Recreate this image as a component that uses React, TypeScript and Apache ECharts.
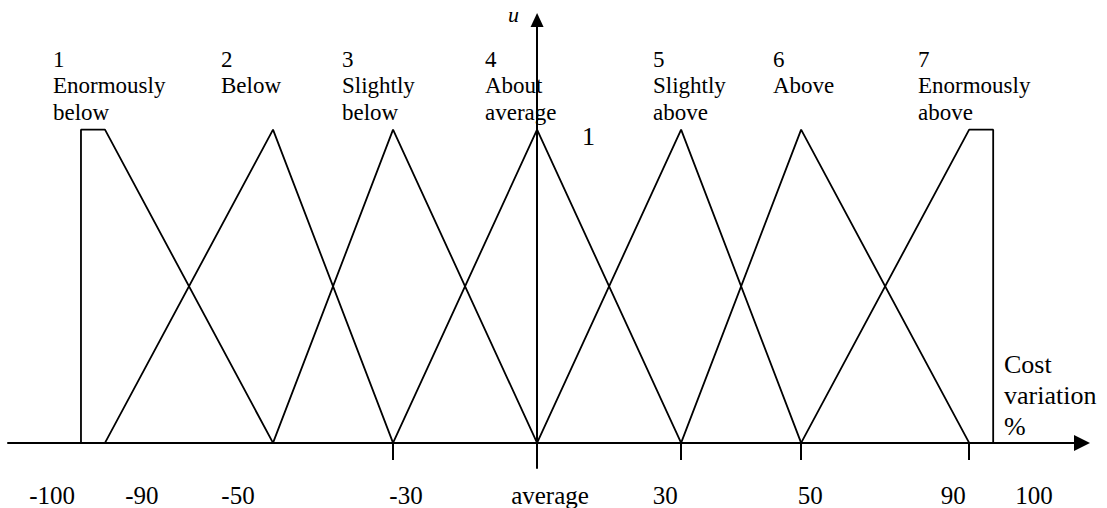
import { useEffect, useRef } from "react";
import * as echarts from "echarts";

// Horizontal layout units of the universe of discourse (average = 0).
// Membership functions of the seven linguistic terms: [position, u]
const set1 = [[-95, 0], [-95, 1], [-90, 1], [-55, 0]];
const set2 = [[-90, 0], [-55, 1], [-30, 0]];
const set3 = [[-55, 0], [-30, 1], [0, 0]];
const set4 = [[-30, 0], [0, 1], [30, 0]];
const set5 = [[0, 0], [30, 1], [55, 0]];
const set6 = [[30, 0], [55, 1], [90, 0]];
const set7 = [[55, 0], [90, 1], [95, 1], [95, 0]];
const sets = [set1, set2, set3, set4, set5, set6, set7];

const setLabels = [
  "1\nEnormously\nbelow",
  "2\nBelow",
  "3\nSlightly\nbelow",
  "4\nAbout\naverage",
  "5\nSlightly\nabove",
  "6\nAbove",
  "7\nEnormously\nabove",
];

// Axis annotations
const tickMarks = [-30, 30, 55, 90];
const tickLabels = ["-100", "-90", "-50", "-30", "average", "30", "50", "90", "100"];
const tickLabelPos = [-101, -82.3, -62.3, -27.3, 2.7, 26.7, 56.9, 86.7, 103.5];

const FONT = '"Liberation Serif", "Times New Roman", serif';
const setLabelLeft = [53, 221, 342, 485, 653, 773, 918];

export default function App() {
  const ref = useRef<HTMLDivElement>(null);

  useEffect(() => {
    if (!ref.current) return;
    const chart = echarts.init(ref.current, undefined, { renderer: "svg" });

    const labelFor = (v: number) => {
      const i = tickLabelPos.findIndex((p) => Math.abs(p - v) < 1e-6);
      return i >= 0 ? tickLabels[i] : "";
    };

    chart.setOption({
      animation: false,
      backgroundColor: "#ffffff",
      grid: {
        left: 8,
        right: 25,
        top: 20,
        bottom: 40,
        containLabel: false,
        outerBoundsMode: "none",
      },
      xAxis: {
        type: "value",
        min: -110.2,
        max: 113.5,
        splitLine: { show: false },
        axisLine: {
          show: true,
          onZero: true,
          symbol: ["none", "triangle"],
          symbolSize: [16, 16],
          lineStyle: { color: "#000", width: 2 },
        },
        axisTick: {
          show: true,
          length: 17,
          customValues: tickMarks,
          lineStyle: { color: "#000", width: 2 },
        },
        axisLabel: {
          show: true,
          customValues: tickLabelPos,
          formatter: (v: number) => labelFor(v),
          margin: 14,
          color: "#000",
          fontFamily: FONT,
          fontSize: 25,
          lineHeight: 26,
          verticalAlign: "top",
          hideOverlap: false,
        },
      },
      yAxis: {
        type: "value",
        min: -0.08,
        max: 1.35,
        splitLine: { show: false },
        axisTick: { show: false },
        axisLabel: { show: false },
        axisLine: {
          show: true,
          onZero: true,
          symbol: ["none", "triangle"],
          symbolSize: [13, 14],
          lineStyle: { color: "#000", width: 2 },
        },
      },
      series: sets.map((d, i) => ({
        name: "set" + (i + 1),
        type: "line",
        data: d,
        symbol: "none",
        silent: true,
        clip: false,
        lineStyle: { color: "#000", width: 1.8 },
      })),
      graphic: [
        ...setLabels.map((t, i) => ({
          type: "text",
          x: setLabelLeft[i],
          y: 46,
          silent: true,
          style: {
            text: t,
            fill: "#000",
            font: `23px ${FONT}`,
            lineHeight: 26.5,
            verticalAlign: "top",
            align: "left",
          },
        })),
        {
          type: "text",
          x: 582,
          y: 123,
          silent: true,
          style: { text: "1", fill: "#000", font: `26px ${FONT}`, lineHeight: 26, verticalAlign: "top" },
        },
        {
          type: "text",
          x: 508,
          y: 3,
          silent: true,
          style: { text: "u", fill: "#000", font: `italic 22px ${FONT}`, lineHeight: 22, verticalAlign: "top" },
        },
        {
          type: "text",
          x: 1004,
          y: 349,
          silent: true,
          style: {
            text: "Cost\nvariation\n%",
            fill: "#000",
            font: `26px ${FONT}`,
            lineHeight: 31,
            verticalAlign: "top",
          },
        },
      ],
    });

    return () => chart.dispose();
  }, []);

  return (
    <div
      ref={ref}
      style={{ position: "fixed", left: 0, top: 0, width: 1107, height: 508 }}
    />
  );
}
